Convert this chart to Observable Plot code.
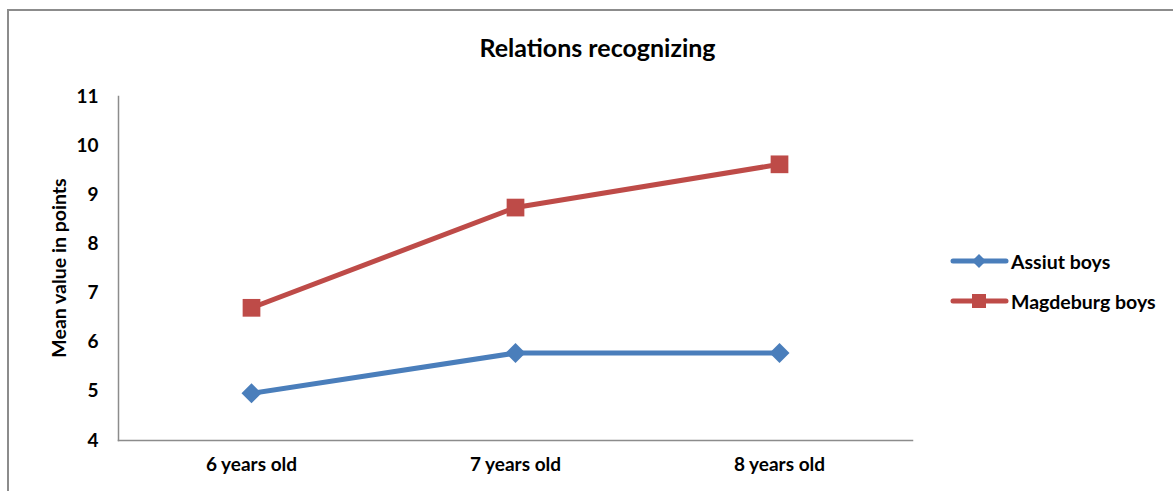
<!DOCTYPE html>
<html>
<head>
<meta charset="utf-8">
<script src="https://cdn.jsdelivr.net/npm/d3@7"></script>
<script src="https://cdn.jsdelivr.net/npm/@observablehq/plot@0.6"></script>
<style>
  html, body { margin: 0; padding: 0; background: #fff; overflow: hidden; }
  #wrap { position: relative; width: 1173px; height: 491px; overflow: hidden; font-family: Lato, "Open Sans", sans-serif; font-weight: bold; color: #000; }
  #border { position: absolute; left: 7px; top: 9px; width: 1300px; height: 700px; border: 2px solid #8c8c8c; box-sizing: border-box; }
  #title { position: absolute; left: 0; top: 32px; width: 1195px; text-align: center; font-size: 25px; }
  #ylabel { position: absolute; left: 58px; top: 268px; transform: translate(-50%, -50%) rotate(-90deg); font-size: 19.5px; white-space: nowrap; }
  #legend { position: absolute; left: 949px; top: 241px; font-size: 19.5px; }
  .item { display: flex; align-items: center; height: 40px; }
  .item svg { margin-right: 2px; }
  #chart { position: absolute; left: 0; top: 0; }
</style>
</head>
<body>
<div id="wrap">
  <div id="chart"></div>
  <div id="border"></div>
  <div id="title">Relations recognizing</div>
  <div id="ylabel">Mean value in points</div>
  <div id="legend"></div>
</div>
<script>
const categories = ["6 years old", "7 years old", "8 years old"];
const seriesNames = ["Assiut boys", "Magdeburg boys"];
const assiutValues = [4.96, 5.78, 5.78];
const magdeburgValues = [6.70, 8.74, 9.62];
const yTicks = [4, 5, 6, 7, 8, 9, 10, 11];
const colors = ["#4a7ebb", "#be4b48"];
const symbols = ["diamond2", "square"];

const rows = [
  ...categories.map((c, i) => ({ age: c, value: assiutValues[i], series: seriesNames[0] })),
  ...categories.map((c, i) => ({ age: c, value: magdeburgValues[i], series: seriesNames[1] }))
];

const chart = Plot.plot({
  width: 1173,
  height: 491,
  marginLeft: 118,
  marginRight: 261,
  marginTop: 96,
  marginBottom: 51,
  style: { fontFamily: "Lato, 'Open Sans', sans-serif", fontWeight: "bold", fontSize: "19px", color: "#000", background: "transparent" },
  x: { type: "point", domain: categories, padding: 0.5, label: null },
  y: { domain: [4, 11], label: null },
  color: { domain: seriesNames, range: colors },
  symbol: { domain: seriesNames, range: symbols },
  marks: [
    Plot.axisY({ ticks: yTicks, tickFormat: d3.format("d"), tickSize: 0, tickPadding: 20, label: null, fontSize: 19 }),
    Plot.axisX({ tickSize: 0, tickPadding: 17, label: null, fontSize: 19 }),
    Plot.frame({ anchor: "left", stroke: "#8c8c8c", strokeWidth: 1.5 }),
    Plot.frame({ anchor: "bottom", stroke: "#8c8c8c", strokeWidth: 1.5 }),
    Plot.line(rows, { x: "age", y: "value", z: "series", stroke: "series", strokeWidth: 5 }),
    Plot.dot(rows.filter(d => d.series === seriesNames[0]), { x: "age", y: "value", fill: "series", symbol: "series", r: 9, stroke: null }),
    Plot.dot(rows.filter(d => d.series === seriesNames[1]), { x: "age", y: "value", fill: "series", symbol: "series", r: 10, stroke: null })
  ]
});
document.getElementById("chart").appendChild(chart);

// Legend
const legend = document.getElementById("legend");
seriesNames.forEach((name, i) => {
  const item = document.createElement("div");
  item.className = "item";
  const marker = i === 0
    ? `<polygon points="30,5 37,12 30,19 23,12" fill="${colors[i]}"/>`
    : `<rect x="23" y="5" width="14" height="14" fill="${colors[i]}"/>`;
  item.innerHTML = `<svg width="60" height="24"><line x1="4" y1="12" x2="57" y2="12" stroke="${colors[i]}" stroke-width="5" stroke-linecap="round"/>${marker}</svg><span>${name}</span>`;
  legend.appendChild(item);
});
</script>
</body>
</html>
